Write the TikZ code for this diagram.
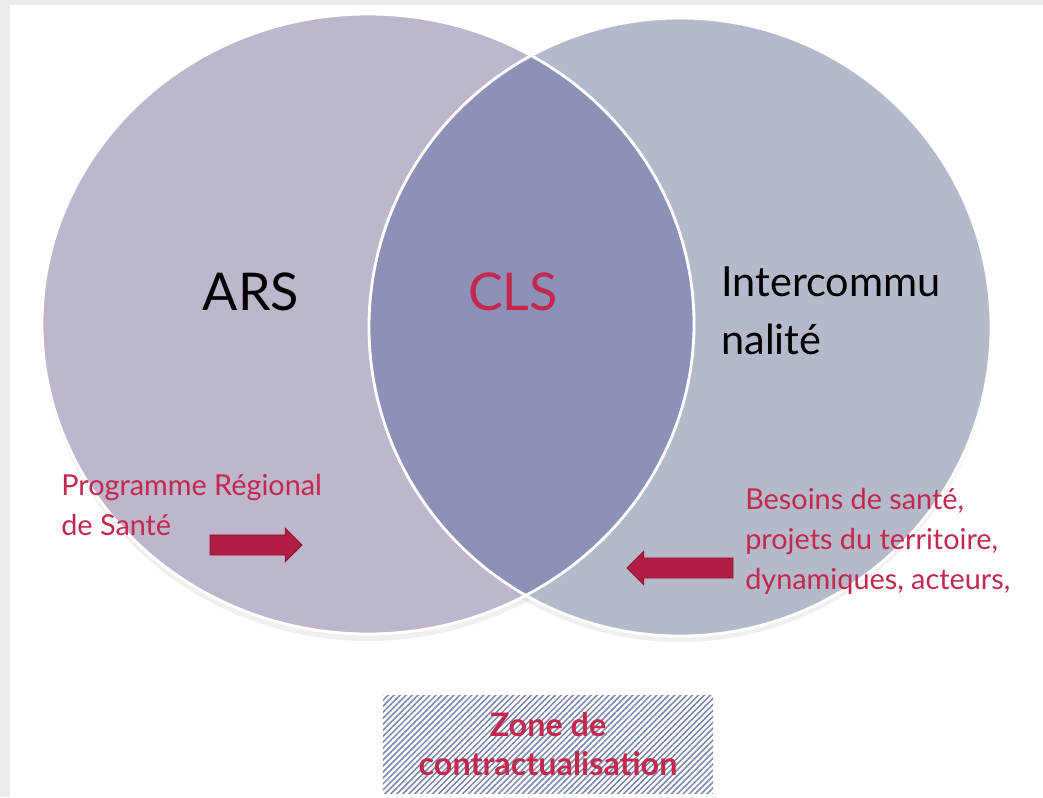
\documentclass[tikz,border=0pt]{standalone}
\usepackage{fontspec}
\setmainfont{Lato}
\usetikzlibrary{shapes.arrows,patterns.meta,positioning}

\definecolor{pagegrey}{HTML}{EDECEA}
\definecolor{arsfill}{HTML}{BEB6CC}
\definecolor{intfill}{HTML}{B5BACB}
\definecolor{clsfill}{HTML}{8D90B7}
\definecolor{redtext}{HTML}{C4284E}
\definecolor{arrowred}{HTML}{B21D43}
\definecolor{arrowdark}{HTML}{8A1433}
\definecolor{hatch}{HTML}{7C88AC}

\begin{document}
\begin{tikzpicture}[x=0.025cm,y=-0.025cm]

      \tikzstyle{bigword}=[font=\fontsize{37}{44}\selectfont]
      \tikzstyle{smallred}=[font=\fontsize{20.5}{28.5}\selectfont,
        text=redtext,align=left,anchor=west,inner sep=0pt]
      \tikzstyle{blockarrow}=[single arrow,fill=arrowred,draw=arrowdark,
        line width=0.6pt,minimum height=2.3cm,single arrow head extend=0.17cm,
        inner xsep=0pt,inner ysep=0.24cm]

      % page
      \fill[pagegrey] (0,0) rectangle (1043,797);
      \fill[white] (10,5) rectangle (1043,797);
      \useasboundingbox (0,0) rectangle (1043,797);

      % shadows
      \fill[black,opacity=0.06] (368,329) ellipse [x radius=326,y radius=312];
      \fill[black,opacity=0.06] (680,332) ellipse [x radius=311,y radius=310];

      % circles
      \fill[arsfill] (368,324) ellipse [x radius=326,y radius=310];
      \fill[intfill] (680,327) ellipse [x radius=311,y radius=309];
      \begin{scope}
        \clip (368,324) ellipse [x radius=326,y radius=310];
        \fill[clsfill] (680,327) ellipse [x radius=311,y radius=309];
      \end{scope}
      \draw[white,line width=2pt] (368,324) ellipse [x radius=326,y radius=310];
      \draw[white,line width=2pt] (680,327) ellipse [x radius=311,y radius=309];

      % labels
      \node(ARS)[bigword] at (251,292) {ARS};
      \node(CLS)[bigword,text=redtext] at (513,292) {CLS};
      \node(INTER)[font=\fontsize{29.5}{41}\selectfont,align=left,
        anchor=west,inner sep=0pt] at (721,311) {Intercommu\\nalité};

      \node(PRS)[smallred] at (61,505) {Programme Régional\\de Santé};
      \node(BESOINS)[smallred] at (745,541)
        {Besoins de santé,\\projets du territoire,\\dynamiques, acteurs,};

      \node(ARROW1)[blockarrow] at (251,545) {};
      \node(ARROW2)[blockarrow,minimum height=2.65cm,
        shape border rotate=180] at (685,568) {};

      % zone
      \node(ZONE)[minimum width=8.25cm,minimum height=2.45cm,
        pattern={Lines[angle=45,distance=3pt,line width=1.1pt]},
        pattern color=hatch,text=redtext,align=center,
        font=\fontsize{23}{28}\selectfont\bfseries] at (548,744)
        {Zone de\\contractualisation};

    \end{tikzpicture}
\end{document}
